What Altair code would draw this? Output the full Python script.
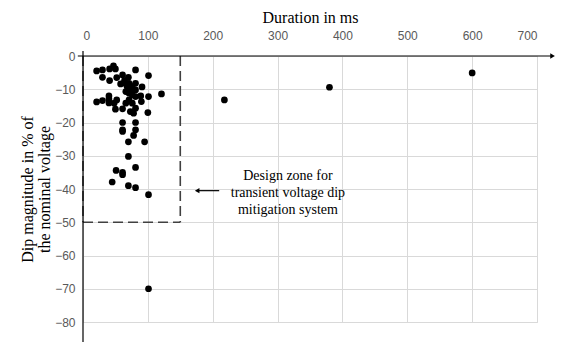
import altair as alt
import pandas as pd

# Scatter data (duration in ms, dip magnitude in %)
duration = [21, 30, 41, 47, 50, 30, 41, 52, 61, 64, 70, 81, 101, 58, 91, 121,
            21, 30, 40, 40, 40, 52, 61, 89, 90, 101, 100,
            61, 81, 61, 61, 81, 78, 70, 95, 70, 51, 61, 61, 81, 45, 70, 81, 101,
            101, 218, 380, 600,
            65, 68, 66, 73, 81, 81, 81, 76, 71, 66, 81, 78, 73, 71, 76, 71, 76, 48, 50]
magnitude = [-4.5, -4.2, -3.9, -3.0, -3.9, -6.4, -7.4, -6.5, -5.7, -7.4, -6.4, -4.2, -5.9, -8.4, -9.3, -11.4,
             -13.8, -13.4, -12.0, -12.9, -14.1, -13.2, -15.9, -12.0, -13.7, -12.2, -17.0,
             -20.0, -20.0, -22.2, -22.7, -22.2, -23.9, -25.8, -25.8, -30.2, -34.4, -35.0, -35.7, -33.5, -37.9, -39.0, -39.6, -41.7,
             -70.0, -13.2, -9.4, -5.1,
             -8.2, -9.2, -10.7, -10.2, -8.2, -10.2, -12.2, -14.2, -13.2, -14.2, -15.7, -17.2, -16.7, -8.2, -9.2, -11.2, -11.7, -14.2, -16.0]

x_ticks = [0, 100, 200, 300, 400, 500, 600, 700]
y_ticks = [0, -10, -20, -30, -40, -50, -60, -70, -80]

x_title = "Duration in ms"
y_title = ["Dip magnitude in % of", "the nominal voltage"]
note_lines = ["Design zone for", "transient voltage dip", "mitigation system"]

zone_x = 150
zone_y = -50

SERIF = "Liberation Serif"
SANS = "Liberation Sans"

xs = alt.Scale(domain=[0, 700], nice=False, zero=False)
ys = alt.Scale(domain=[-80, 0], nice=False, zero=False)

xaxis = alt.Axis(orient="top", values=x_ticks, title=x_title, grid=True, gridColor="#d9d9d9",
                 domain=False, ticks=False, labelColor="#595959", labelFont=SANS, labelFontSize=12,
                 labelPadding=14, titleFont=SERIF, titleFontSize=16, titleFontWeight="normal",
                 titleColor="black", titlePadding=4)
yaxis = alt.Axis(orient="left", values=y_ticks, title=y_title, grid=True, gridColor="#d9d9d9",
                 domain=False, ticks=False, labelColor="#595959", labelFont=SANS, labelFontSize=12,
                 labelPadding=8, titleFont=SERIF, titleFontSize=16, titleFontWeight="normal",
                 titleColor="black", titlePadding=2, titleLineHeight=17)


def X(f):
    return alt.X(f, type="quantitative", scale=xs, axis=xaxis)


def Y(f):
    return alt.Y(f, type="quantitative", scale=ys, axis=yaxis)


pts = pd.DataFrame({"x": duration, "y": magnitude})

points = alt.Chart(pts).mark_circle(size=45, color="black", opacity=1).encode(x=X("x"), y=Y("y"))

# dashed design zone
zone = pd.DataFrame({"x": [zone_x, 0, 0], "x2": [zone_x, zone_x, 0],
                     "y": [0, zone_y, 0], "y2": [zone_y, zone_y, zone_y]})
zone_rules = alt.Chart(zone).mark_rule(color="#404040", strokeWidth=1.6, strokeDash=[10, 5]).encode(
    x=X("x"), x2="x2", y=Y("y"), y2="y2")

# axis lines with arrows
axes_df = pd.DataFrame({"x": [-8, 0], "x2": [722, 0], "y": [0, 1.5], "y2": [0, -87]})
axis_rules = alt.Chart(axes_df).mark_rule(color="black", strokeWidth=1.2).encode(
    x=X("x"), x2="x2", y=Y("y"), y2="y2")

heads = pd.DataFrame({"x": [724, 0, 176], "y": [0, -87.5, -40.5],
                      "shape": ["triangle-right", "triangle-down", "triangle-left"]})
arrow_heads = alt.Chart(heads).mark_point(filled=True, color="black", size=28, opacity=1).encode(
    x=X("x"), y=Y("y"), shape=alt.Shape("shape:N", scale=None, legend=None))

arrow_df = pd.DataFrame({"x": [178], "x2": [210], "y": [-40.5]})
arrow_line = alt.Chart(arrow_df).mark_rule(color="black", strokeWidth=1.2).encode(
    x=X("x"), x2="x2", y=Y("y"))

note_df = pd.DataFrame({"x": [316, 316, 316], "y": [-36.0, -41.1, -46.3], "t": note_lines})
note = alt.Chart(note_df).mark_text(font=SERIF, fontSize=14, color="black", align="center",
                                   baseline="middle").encode(x=X("x"), y=Y("y"), text="t:N")

chart = alt.layer(zone_rules, axis_rules, arrow_line, arrow_heads, points, note).properties(
    width=454, height=266,
    autosize=alt.AutoSizeParams(type="none"),
    padding={"left": 75, "top": 48, "right": 33, "bottom": 20},
).configure_view(stroke=None).configure(background="white")

chart.save("out.html", embed_options={"renderer": "svg", "actions": False})
